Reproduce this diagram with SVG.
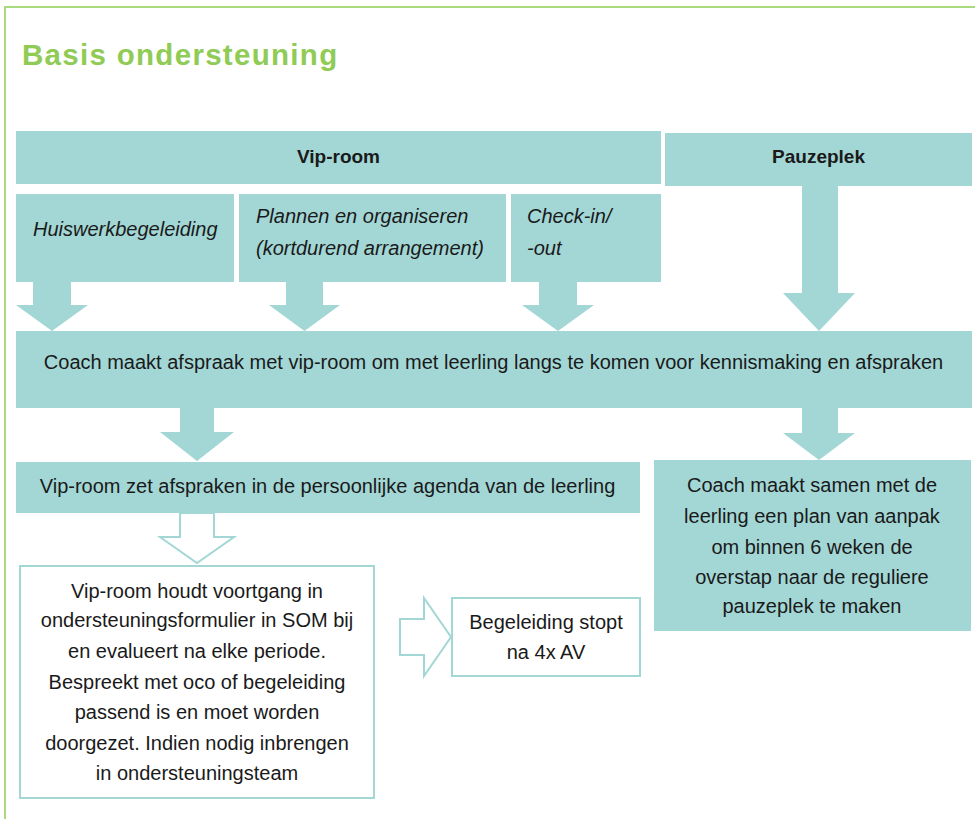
<svg xmlns="http://www.w3.org/2000/svg" width="975" height="819" viewBox="0 0 975 819">
<style>
.bg{fill:#ffffff}
.frame{fill:none;stroke:#a9da7f;stroke-width:2}
.title{font-family:"Liberation Sans",Arial,sans-serif;font-size:29.5px;font-weight:bold;fill:#8fcb55;letter-spacing:1.3px}
.box{fill:#a3d7d6}
.obox{fill:#ffffff;stroke:#a3d7d6;stroke-width:2}
.arrow{fill:#a3d7d6}
.oarrow{fill:#ffffff;stroke:#a3d7d6;stroke-width:2;stroke-linejoin:miter}
.t{font-family:"Liberation Sans",Arial,sans-serif;font-size:20px;fill:#1a1a1a}
.c{text-anchor:middle}
.b{font-weight:bold;font-size:19px}
.i{font-style:italic}
</style>
<rect class="bg" x="0" y="0" width="975" height="819"/>
<path class="frame" d="M5,819 V7 H975"/>
<text class="title" x="22" y="65">Basis ondersteuning</text>

<g id="connectors">
<polygon class="arrow" points="33,282 71,282 71,305 88,305 52,331 16,305 33,305"/>
<polygon class="arrow" points="286,282 323,282 323,305 340,305 304.5,331 269,305 286,305"/>
<polygon class="arrow" points="539,282 577,282 577,305 594,305 558,331 522,305 539,305"/>
<polygon class="arrow" points="802,186 838,186 838,293 855,293 819,331 783,293 802,293"/>
<polygon class="arrow" points="180,408 214,408 214,432 234,432 197,461 160,432 180,432"/>
<polygon class="arrow" points="802,408 838,408 838,433 855,433 819,460 783,433 802,433"/>
<polygon class="oarrow" points="180,513 214,513 214,537 234,537 197,563 160,537 180,537"/>
<polygon class="oarrow" points="400,619 424,619 424,598 451,637 424,676 424,655 400,655"/>
</g>

<g id="vip-room">
<rect class="box" x="16" y="131" width="645" height="53"/>
<text class="t c b" x="338.5" y="163">Vip-room</text>
</g>
<g id="pauzeplek">
<rect class="box" x="665" y="133" width="307" height="53"/>
<text class="t c b" x="818.5" y="163">Pauzeplek</text>
</g>
<g id="huiswerk">
<rect class="box" x="16" y="194" width="218" height="88"/>
<text class="t i" x="33" y="236">Huiswerkbegeleiding</text>
</g>
<g id="plannen">
<rect class="box" x="239" y="194" width="267" height="88"/>
<text class="t i" x="256" y="223">Plannen en organiseren</text>
<text class="t i" x="256" y="255">(kortdurend arrangement)</text>
</g>
<g id="checkin">
<rect class="box" x="511" y="194" width="150" height="88"/>
<text class="t i" x="527" y="223">Check-in/</text>
<text class="t i" x="527" y="255">-out</text>
</g>
<g id="coach-afspraak">
<rect class="box" x="16" y="331" width="956" height="77"/>
<text class="t c" x="493.5" y="369">Coach maakt afspraak met vip-room om met leerling langs te komen voor kennismaking en afspraken</text>
</g>
<g id="agenda">
<rect class="box" x="16" y="462" width="624" height="51"/>
<text class="t c" x="327.5" y="493">Vip-room zet afspraken in de persoonlijke agenda van de leerling</text>
</g>
<g id="plan-van-aanpak">
<rect class="box" x="654" y="460" width="317" height="171"/>
<text class="t c" x="812" y="492">Coach maakt samen met de</text>
<text class="t c" x="812" y="523">leerling een plan van aanpak</text>
<text class="t c" x="812" y="554">om binnen 6 weken de</text>
<text class="t c" x="812" y="584">overstap naar de reguliere</text>
<text class="t c" x="812" y="613">pauzeplek te maken</text>
</g>
<g id="voortgang">
<rect class="obox" x="20" y="566" width="354" height="232"/>
<text class="t c" x="197" y="598">Vip-room houdt voortgang in</text>
<text class="t c" x="197" y="627">ondersteuningsformulier in SOM bij</text>
<text class="t c" x="197" y="658">en evalueert na elke periode.</text>
<text class="t c" x="197" y="689">Bespreekt met oco of begeleiding</text>
<text class="t c" x="197" y="719">passend is en moet worden</text>
<text class="t c" x="197" y="750">doorgezet. Indien nodig inbrengen</text>
<text class="t c" x="197" y="780">in ondersteuningsteam</text>
</g>
<g id="stopt">
<rect class="obox" x="452" y="598" width="188" height="78"/>
<text class="t c" x="546" y="629">Begeleiding stopt</text>
<text class="t c" x="546" y="659">na 4x AV</text>
</g>
</svg>
